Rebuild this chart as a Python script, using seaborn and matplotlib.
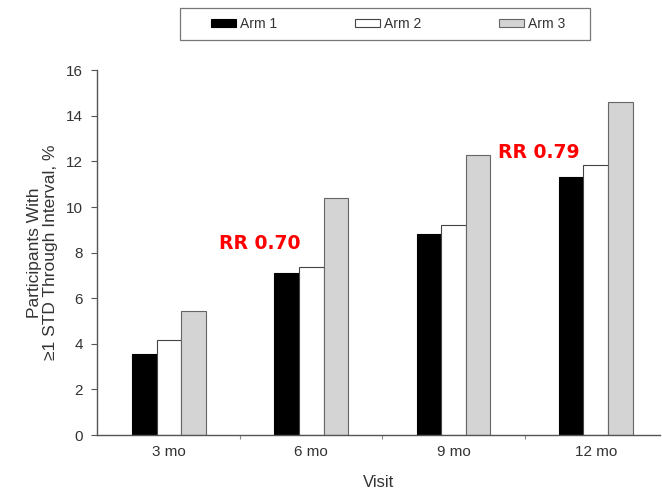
import pandas as pd
import seaborn as sns
import matplotlib.pyplot as plt
from matplotlib.ticker import FixedLocator
from matplotlib.patches import Patch, Rectangle

# Данные
visits = ['3 mo', '6 mo', '9 mo', '12 mo']
arms = ['Arm 1', 'Arm 2', 'Arm 3']
arm1 = [3.55, 7.1, 8.8, 11.3]
arm2 = [4.15, 7.35, 9.2, 11.85]
arm3 = [5.45, 10.4, 12.3, 14.6]
colors = ['#000000', '#ffffff', '#d4d4d4']
edges = ['#000000', '#444444', '#666666']

df = pd.DataFrame({
    'Visit': visits * 3,
    'Arm': [a for a in arms for _ in visits],
    'value': arm1 + arm2 + arm3,
})

sns.set_style('white')
plt.rcParams['font.family'] = ['Liberation Sans', 'DejaVu Sans']

W, H = 662, 491
fig = plt.figure(figsize=(W / 100, H / 100), dpi=100)
ax = fig.add_axes([0.1465, 0.114, 0.85, 0.743])

sns.barplot(data=df, x='Visit', y='value', hue='Arm', order=visits, hue_order=arms,
            palette=colors, width=0.52, ax=ax, legend=False)

for cont, ec in zip(ax.containers, edges):
    for bar in cont:
        bar.set_edgecolor(ec)
        bar.set_linewidth(0.8)

ax.set_xlim(-0.507, 3.45)
ax.set_ylim(0, 16)
ax.set_yticks(range(0, 17, 2))
ax.xaxis.set_minor_locator(FixedLocator([0.5, 1.5, 2.5]))
ax.tick_params(axis='y', left=True, length=4, width=0.8, pad=6, color='#555555',
               labelsize=11, labelcolor='#333333')
ax.tick_params(axis='x', which='major', bottom=False, labelsize=11, labelcolor='#333333')
ax.tick_params(axis='x', which='minor', bottom=True, length=3, width=0.8, color='#888888')
sns.despine(ax=ax)
for s in ['left', 'bottom']:
    ax.spines[s].set_color('#555555')
    ax.spines[s].set_linewidth(1.0)

ax.set_xlabel('Visit', fontsize=12, color='#333333', labelpad=12)
ax.set_ylabel('Participants With\n≥1 STD Through Interval, %', fontsize=12.5,
              color='#333333', labelpad=6, linespacing=1.1)

# Аннотации
ax.text(0.64, 8.4, 'RR 0.70', color='red', fontsize=13.5, fontweight='bold',
        ha='center', va='center', family=['DejaVu Sans'])
ax.text(2.6, 12.4, 'RR 0.79', color='red', fontsize=13.5, fontweight='bold',
        ha='center', va='center', family=['DejaVu Sans'])

# Легенда
handles = [Patch(facecolor=c, edgecolor=e, linewidth=0.8) for c, e in zip(colors, edges)]
fig.legend(handles, arms, loc='center', bbox_to_anchor=(388 / W, 1 - 24 / H), ncol=3,
           frameon=False, fontsize=10, columnspacing=5.6,
           handlelength=1.8, handleheight=0.55, handletextpad=0.3,
           labelcolor='#333333')
fig.patches.append(Rectangle((180 / W, 1 - 40 / H), 410 / W, 32 / H,
                             transform=fig.transFigure, facecolor='none',
                             edgecolor='#777777', linewidth=0.9))

plt.savefig('out.png', dpi=100)
plt.close()
